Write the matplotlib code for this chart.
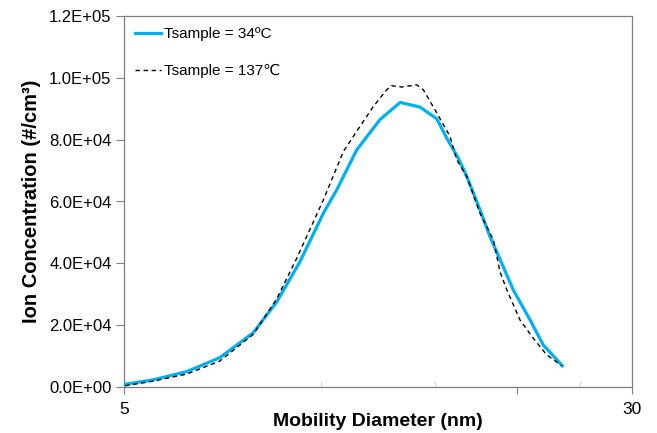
"""
Ion size distribution: concentration vs mobility diameter for two sample temperatures.
"""
import matplotlib
matplotlib.use("Agg")
import matplotlib.pyplot as plt
import matplotlib.ticker as mticker

plt.rcParams["font.family"] = ["Liberation Sans", "DejaVu Sans"]

# Tsample = 34 C (solid blue)
d_34 = [5.02, 5.54, 6.24, 7.01, 7.89, 8.57, 9.30, 10.10, 10.59, 11.36, 12.33,
        13.24, 14.20, 15.07, 15.61, 16.26, 16.75, 17.55, 18.18, 18.83, 19.74,
        20.94, 21.94, 23.46]
c_34 = [800, 2200, 4900, 9400, 17500, 27500, 40500, 56200, 63800, 76700, 86500,
        92100, 90600, 86800, 80500, 74000, 68100, 57300, 48600, 41300, 31300,
        21600, 13500, 6800]

# Tsample = 137 C (dashed black)
d_137 = [5.02, 5.54, 6.24, 7.01, 7.89, 8.57, 9.19, 10.10, 10.84, 11.49, 12.05,
         12.63, 12.85, 13.32, 14.04, 14.37, 15.07, 15.79, 16.17, 16.75, 17.55,
         18.40, 18.83, 19.29, 20.21, 21.18, 22.21, 23.42]
c_137 = [300, 1800, 4100, 8300, 17000, 28500, 41500, 60500, 76200, 84300, 90800,
         96200, 97500, 97100, 97800, 96200, 88700, 81100, 73500, 68100, 56200,
         47600, 37300, 31400, 21600, 15700, 10300, 6800]

labels = ["Tsample = 34ºC", "Tsample = 137℃"]
y_ticks = [0, 20000, 40000, 60000, 80000, 100000, 120000]

fig = plt.figure(figsize=(6.57, 4.33), dpi=100)
ax = fig.add_axes([124 / 657, 1 - 386.7 / 433, 508 / 657, 370.4 / 433])

ax.plot(d_34, c_34, color="#00B0F0", lw=2.3, label=labels[0], zorder=3)
ax.plot(d_137, c_137, color="black", lw=1.0, dashes=(3.2, 2.6), label=labels[1], zorder=4)

ax.set_xscale("log")
ax.set_xlim(5, 30)
ax.set_ylim(0, 120000)

ax.xaxis.set_major_locator(mticker.FixedLocator([5, 20, 30]))
ax.xaxis.set_major_formatter(mticker.FixedFormatter(["5", "", "30"]))
ax.xaxis.set_minor_locator(mticker.FixedLocator([10, 15, 25]))
ax.xaxis.set_minor_formatter(mticker.NullFormatter())
ax.tick_params(axis="x", which="major", direction="out", length=5, width=0.8,
               color="#7f7f7f", labelsize=12.5, pad=6)
ax.tick_params(axis="x", which="minor", direction="in", length=4, width=0.8,
               color="#d9d9d9")

ax.set_yticks(y_ticks)
ax.yaxis.set_major_formatter(mticker.FuncFormatter(lambda v, _: f"{v:.1E}"))
ax.tick_params(axis="y", direction="out", length=6, width=0.8,
               color="#7f7f7f", labelsize=12, pad=3)

for s in ax.spines.values():
    s.set_color("#7f7f7f")
    s.set_linewidth(0.9)

ax.set_xlabel("Mobility Diameter (nm)", fontsize=14, fontweight="bold", labelpad=-3)
ax.set_ylabel("Ion Concentration (#/cm³)", fontsize=14.5, fontweight="bold", labelpad=6)

ax.legend(loc="upper left", bbox_to_anchor=(0.0, 1.0), frameon=False, fontsize=11,
          handlelength=1.7, handletextpad=0.2, labelspacing=1.5, borderaxespad=0.3)

fig.savefig("out.png", dpi=100)
